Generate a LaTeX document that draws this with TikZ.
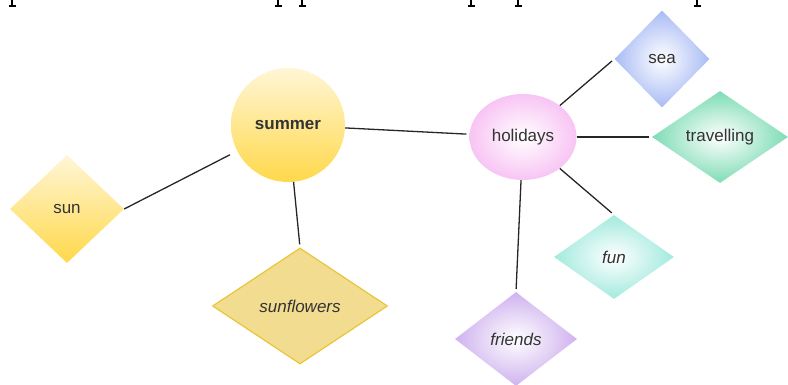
\documentclass[tikz,border=0pt]{standalone}
\usepackage{fontspec}
\setmainfont{Liberation Sans}
\usetikzlibrary{shapes}
\usetikzlibrary{calc}

\definecolor{SunLight}{HTML}{FFF6D6}
\definecolor{SunDeep}{HTML}{FFD84A}
\definecolor{FlowerFill}{HTML}{F2DC8F}
\definecolor{FlowerLine}{HTML}{E8C53A}
\definecolor{PinkEdge}{HTML}{F8C4F4}
\definecolor{BlueEdge}{HTML}{A8BBF4}
\definecolor{GreenEdge}{HTML}{7EDCB5}
\definecolor{TealEdge}{HTML}{A2EADD}
\definecolor{LilacEdge}{HTML}{CFB2EF}

\begin{document}
\begin{tikzpicture}[
	x=1pt,
	y=-1pt,
	font=\fontsize{17}{20}\selectfont,
	text=black!80]

\tikzstyle{word}=[shape=diamond, inner sep=0pt]
\tikzstyle{link}=[line width=1.3pt, black!85, shorten >=3pt]
\tikzstyle{glow}=[shading=radial, inner color=white]

\useasboundingbox (0,0) rectangle (788,385);

% cut-off letters along the top edge
\foreach \x in {12,278,302,471,518,697}
	\draw[line width=1.6pt] (\x,0) -- (\x,6) (\x-3.5,6) -- (\x+3.5,6);

% summer side
\node (summer) at (288,125) [circle, minimum size=114pt, inner sep=0pt,
	top color=SunLight, bottom color=SunDeep] {\bfseries summer};
\node (sun) at (67,209) [word, minimum width=114pt, minimum height=108pt,
	top color=SunLight, bottom color=SunDeep] {sun};
\node (sunflowers) at (300,306) [word, minimum width=175pt, minimum height=116pt,
	fill=FlowerFill, draw=FlowerLine, line width=1.2pt] {\itshape sunflowers};

% holidays side
\node (holidays) at (523,137) [ellipse, minimum width=107pt, minimum height=86pt,
	inner sep=0pt, glow, outer color=PinkEdge] {holidays};
\node (sea) at (662,59) [word, minimum width=95pt, minimum height=97pt,
	glow, outer color=BlueEdge] {sea};
\node (travelling) at (720,137) [word, minimum width=136pt, minimum height=92pt,
	glow, outer color=GreenEdge] {travelling};
\node (fun) at (614,257) [word, minimum width=120pt, minimum height=84pt,
	glow, outer color=TealEdge] {\itshape fun};
\node (friends) at (516,339) [word, minimum width=122pt, minimum height=94pt,
	glow, outer color=LilacEdge] {\itshape friends};

% connectors
\draw[link, shorten >=8pt] (sun.east) -- (summer);
\draw[link] (summer) -- (sunflowers.north);
\draw[link] (summer) -- (holidays);
\draw[link] (holidays) -- (sea.west);
\draw[link] (holidays) -- (travelling.west);
\draw[link] (holidays) -- (fun.north);
\draw[link] (holidays) -- (friends.north);

\end{tikzpicture}
\end{document}
